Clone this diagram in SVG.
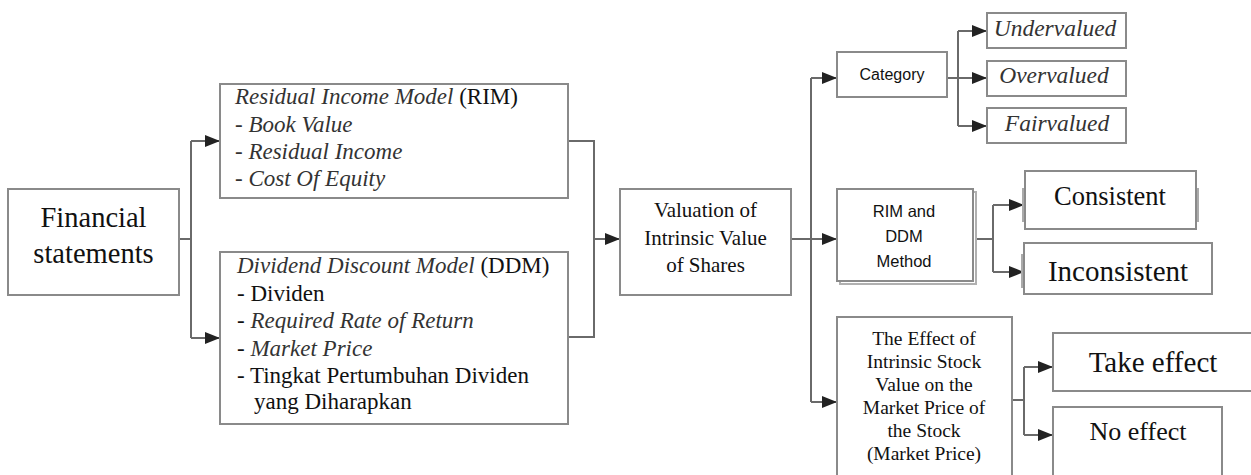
<svg xmlns="http://www.w3.org/2000/svg" width="1251" height="475" viewBox="0 0 1251 475">
<style>
.box{fill:#fff;stroke:#8a8a8a;stroke-width:2}
.ln{fill:none;stroke:#6a6a6a;stroke-width:2}
.it{font-style:italic;fill:#333}
.mid{text-anchor:middle}
</style>
<defs>
<marker id="ah" markerUnits="userSpaceOnUse" markerWidth="16" markerHeight="12" refX="15" refY="6" orient="auto">
<path d="M0,0 L15,6 L0,12 z" fill="#222"/>
</marker>
</defs>
<rect width="1251" height="475" fill="#fff"/>

<g id="connectors">
<path class="ln" d="M179,239 H191 M191,141 V338"/>
<path class="ln" d="M191,141 H220" marker-end="url(#ah)"/>
<path class="ln" d="M191,338 H220" marker-end="url(#ah)"/>
<path class="ln" d="M568,141 H594 V337 H568"/>
<path class="ln" d="M594,239 H620" marker-end="url(#ah)"/>
<path class="ln" d="M791,239 H811 M811,78 V402"/>
<path class="ln" d="M811,78 H837" marker-end="url(#ah)"/>
<path class="ln" d="M811,239 H837" marker-end="url(#ah)"/>
<path class="ln" d="M811,402 H837" marker-end="url(#ah)"/>
<path class="ln" d="M947,78 H958 M958,31 V126"/>
<path class="ln" d="M958,31 H987" marker-end="url(#ah)"/>
<path class="ln" d="M958,78 H987" marker-end="url(#ah)"/>
<path class="ln" d="M958,126 H987" marker-end="url(#ah)"/>
<path class="ln" d="M974,239 H993 M993,205 V272"/>
<path class="ln" d="M993,205 H1024" marker-end="url(#ah)"/>
<path class="ln" d="M993,272 H1024" marker-end="url(#ah)"/>
<path class="ln" d="M1012,400 H1024 M1024,367 V435"/>
<path class="ln" d="M1024,367 H1053" marker-end="url(#ah)"/>
<path class="ln" d="M1024,435 H1053" marker-end="url(#ah)"/>
</g>

<g font-family="'Liberation Serif', 'Times New Roman', 'DejaVu Serif', serif" fill="#111">
<g id="financial">
<rect class="box" x="8" y="189" width="171" height="106"/>
<text class="mid" x="93.5" y="227" font-size="28.5">Financial</text>
<text class="mid" x="93.5" y="263" font-size="28.5">statements</text>
</g>

<g id="rim">
<rect class="box" x="220" y="84" width="348" height="114"/>
<text x="235" y="104" font-size="23"><tspan class="it">Residual Income Model</tspan> (RIM)</text>
<text class="it" x="235" y="132" font-size="23">- Book Value</text>
<text class="it" x="235" y="159" font-size="23">- Residual Income</text>
<text class="it" x="235" y="186" font-size="23">- Cost Of Equity</text>
</g>

<g id="ddm">
<rect class="box" x="220" y="252" width="348" height="172"/>
<text x="237" y="273" font-size="23"><tspan class="it">Dividend Discount Model</tspan> (DDM)</text>
<text x="237" y="301" font-size="23">- Dividen</text>
<text x="237" y="328" font-size="23">- <tspan class="it">Required Rate of Return</tspan></text>
<text x="237" y="356" font-size="23">- <tspan class="it">Market Price</tspan></text>
<text x="237" y="383" font-size="23">- Tingkat Pertumbuhan Dividen</text>
<text x="254" y="409" font-size="23">yang Diharapkan</text>
</g>

<g id="valuation">
<rect class="box" x="620" y="189" width="171" height="106"/>
<text class="mid" x="705.5" y="217" font-size="21">Valuation of</text>
<text class="mid" x="705.5" y="245" font-size="21">Intrinsic Value</text>
<text class="mid" x="705.5" y="272" font-size="21">of Shares</text>
</g>

<g id="undervalued">
<rect class="box" x="987" y="13" width="139" height="35"/>
<text class="it mid" x="1055" y="36" font-size="23.5">Undervalued</text>
</g>
<g id="overvalued">
<rect class="box" x="987" y="61" width="139" height="35"/>
<text class="it mid" x="1054" y="83" font-size="23.5">Overvalued</text>
</g>
<g id="fairvalued">
<rect class="box" x="987" y="108" width="139" height="35"/>
<text class="it mid" x="1057" y="131" font-size="23.5">Fairvalued</text>
</g>

<g id="consistent">
<path d="M1023,188 V222 M1198,188 V222" stroke="#aaa" stroke-width="2" fill="none"/>
<rect class="box" x="1025" y="171" width="171" height="58"/>
<text class="mid" x="1110" y="205" font-size="26.5">Consistent</text>
</g>

<g id="inconsistent">
<path d="M1022,254 V288" stroke="#aaa" stroke-width="2" fill="none"/>
<rect class="box" x="1024" y="243" width="188" height="51"/>
<text class="mid" x="1118" y="281" font-size="29">Inconsistent</text>
</g>

<g id="effect">
<rect class="box" x="837" y="317" width="175" height="170"/>
<text class="mid" x="924" y="345" font-size="19.5">The Effect of</text>
<text class="mid" x="924" y="368" font-size="19.5">Intrinsic Stock</text>
<text class="mid" x="924" y="391" font-size="19.5">Value on the</text>
<text class="mid" x="924" y="414" font-size="19.5">Market Price of</text>
<text class="mid" x="924" y="437" font-size="19.5">the Stock</text>
<text class="mid" x="924" y="460" font-size="19.5">(Market Price)</text>
</g>

<g id="take-effect">
<rect class="box" x="1053" y="333" width="210" height="58"/>
<text class="mid" x="1153" y="372" font-size="29">Take effect</text>
</g>

<g id="no-effect">
<rect class="box" x="1053" y="407" width="169" height="80"/>
<text class="mid" x="1138" y="440" font-size="26">No effect</text>
</g>
</g>

<g font-family="'Liberation Sans', Arial, sans-serif" fill="#111">
<g id="category">
<rect class="box" x="837" y="52" width="110" height="45"/>
<text class="mid" x="892" y="80" font-size="16">Category</text>
</g>

<g id="method">
<rect x="840" y="192" width="136" height="92" fill="#fff" stroke="#b0b0b0" stroke-width="2"/>
<rect class="box" x="837" y="189" width="136" height="92"/>
<text class="mid" x="904" y="217" font-size="16.5">RIM and</text>
<text class="mid" x="904" y="242" font-size="16.5">DDM</text>
<text class="mid" x="904" y="267" font-size="16.5">Method</text>
</g>
</g>
</svg>
